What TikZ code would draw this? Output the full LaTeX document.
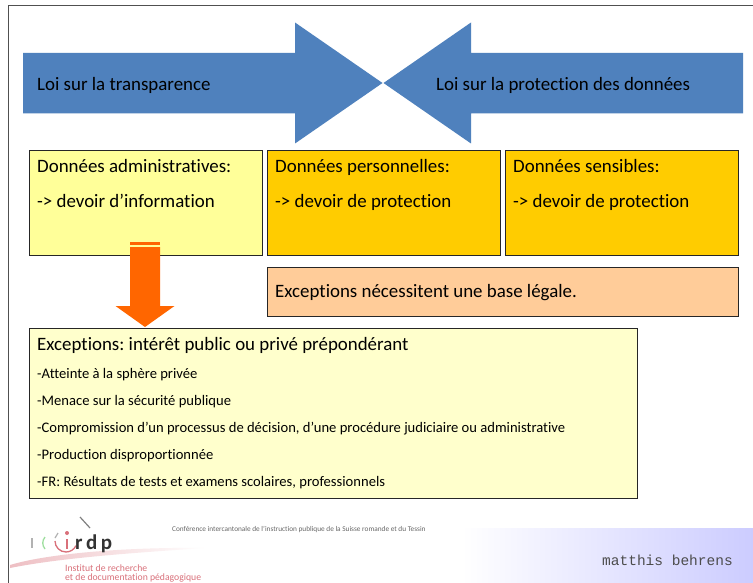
\documentclass[tikz,border=0pt]{standalone}
\usepackage{fontspec}
\setmainfont[Ligatures=NoCommon]{Carlito}
\setmonofont{Liberation Mono}
\definecolor{framec}{HTML}{505050}
\definecolor{bluearrow}{HTML}{4F81BD}
\definecolor{lightyellow}{HTML}{FFFF99}
\definecolor{goldbox}{HTML}{FFCC00}
\definecolor{peachbox}{HTML}{FFCC99}
\definecolor{creambox}{HTML}{FFFFCC}
\definecolor{orangearrow}{HTML}{FF6600}
\definecolor{bandc}{HTML}{CCCCFF}
\definecolor{logored}{HTML}{D9707A}
\tikzset{
  infobox/.style={draw=black!85,line width=0.9pt,inner sep=0pt,anchor=north west},
  boxtext/.style={anchor=base west,inner sep=0pt,font=\frenchspacing\fontsize{18.9}{22}\selectfont,text=black},
  smalltext/.style={anchor=base west,inner sep=0pt,font=\frenchspacing\fontsize{14.6}{17}\selectfont,text=black},
  logotext/.style={anchor=base west,inner sep=0pt,text=logored,font=\fontsize{9.7}{11}\selectfont}
}
\begin{document}
\begin{tikzpicture}[x=1pt,y=-1pt]
\useasboundingbox (0,0) rectangle (753,583);
\fill[white] (0,0) rectangle (753,583);
% slide frame
\draw[framec,line width=1pt] (8,583) -- (8,6) -- (753,6);
% footer band
\shade[left color=white,right color=bandc] (462,528) rectangle (753,582);
% arrows
\fill[bluearrow] (23,53) -- (295,53) -- (295,22.5) -- (382.5,83) -- (295,143.5) -- (295,113.5) -- (23,113.5) -- cycle;
\fill[bluearrow] (743,53) -- (471,53) -- (471,22.5) -- (383.5,83) -- (471,143.5) -- (471,113.5) -- (743,113.5) -- cycle;
\node[boxtext] (t1) at (37,90.7) {Loi sur la transparence};
\node[boxtext] (t2) at (436,90.7) {Loi sur la protection des données};
% boxes
\node[infobox,fill=lightyellow,minimum width=233pt,minimum height=104.5pt] (b1) at (29,150) {};
\node[infobox,fill=goldbox,minimum width=232.5pt,minimum height=104.5pt] (b2) at (267,150) {};
\node[infobox,fill=goldbox,minimum width=232.8pt,minimum height=104.5pt] (b3) at (505,150) {};
\node[boxtext] at (37,172.8) {Données administratives:};
\node[boxtext] at (37,207.8) {-> devoir d’information};
\node[boxtext] at (275,172.8) {Données personnelles:};
\node[boxtext] at (275,207.8) {-> devoir de protection};
\node[boxtext] at (513,172.8) {Données sensibles:};
\node[boxtext] at (513,207.8) {-> devoir de protection};
\node[infobox,fill=peachbox,minimum width=470.8pt,minimum height=49pt] (b4) at (267,266.5) {};
\node[boxtext] at (275,297) {Exceptions nécessitent une base légale.};
\node[infobox,fill=creambox,minimum width=607.5pt,minimum height=170.5pt] (b5) at (29,327.5) {};
\node[boxtext] at (37,350) {Exceptions: intérêt public ou privé prépondérant};
\node[smalltext] at (37,378) {-Atteinte à la sphère privée};
\node[smalltext] at (37,405) {-Menace sur la sécurité publique};
\node[smalltext] at (37,432) {-Compromission d’un processus de décision, d’une procédure judiciaire ou administrative};
\node[smalltext] at (37,459.5) {-Production disproportionnée};
\node[smalltext] at (37,486) {-FR: Résultats de tests et examens scolaires, professionnels};
% orange arrow
\fill[orangearrow] (130,242) rectangle (160,245);
\fill[orangearrow] (130,247) -- (160,247) -- (160,306) -- (174.5,306) -- (145,327) -- (115.5,306) -- (130,306) -- cycle;
% logo
\shade[left color=logored!45,right color=white] (10,565) .. controls (50,553) and (130,547) .. (205,548) .. controls (130,553) and (60,558) .. (10,568) -- cycle;
\draw[logored,line width=1.3pt] (55,541) arc[start angle=180,end angle=335,radius=11pt];
\draw[gray,line width=1.2pt] (80,517) -- (90,528);
\draw[gray!60,line width=1.3pt] (32,538) -- (32,548);
\draw[gray!50!green!50,line width=1.3pt] (45,537) .. controls (42,541) and (42,545) .. (45,549);
\draw[gray!60,line width=1.2pt] (58,533) -- (55,538);
\fill[logored] (67,533) circle (2pt);
\draw[logored,line width=2pt] (67,539) -- (67,549);
\node[anchor=base west,inner sep=0pt,font=\bfseries\fontsize{21}{24}\selectfont,text=black!80] (logo) at (75,549) {r\,d\,p};
\node[logotext] at (65,571) {Institut de recherche};
\node[logotext] at (65,580.5) {et de documentation pédagogique};
\node[anchor=base west,inner sep=0pt,text=black!60,font=\fontsize{7.3}{8}\selectfont] at (172,531) {Conférence intercantonale de l’instruction publique de la Suisse romande et du Tessin};
\node[anchor=base west,inner sep=0pt,font=\ttfamily\fontsize{14.5}{17}\selectfont,text=black!70] at (602,565.5) {matthis behrens};
\end{tikzpicture}
\end{document}
